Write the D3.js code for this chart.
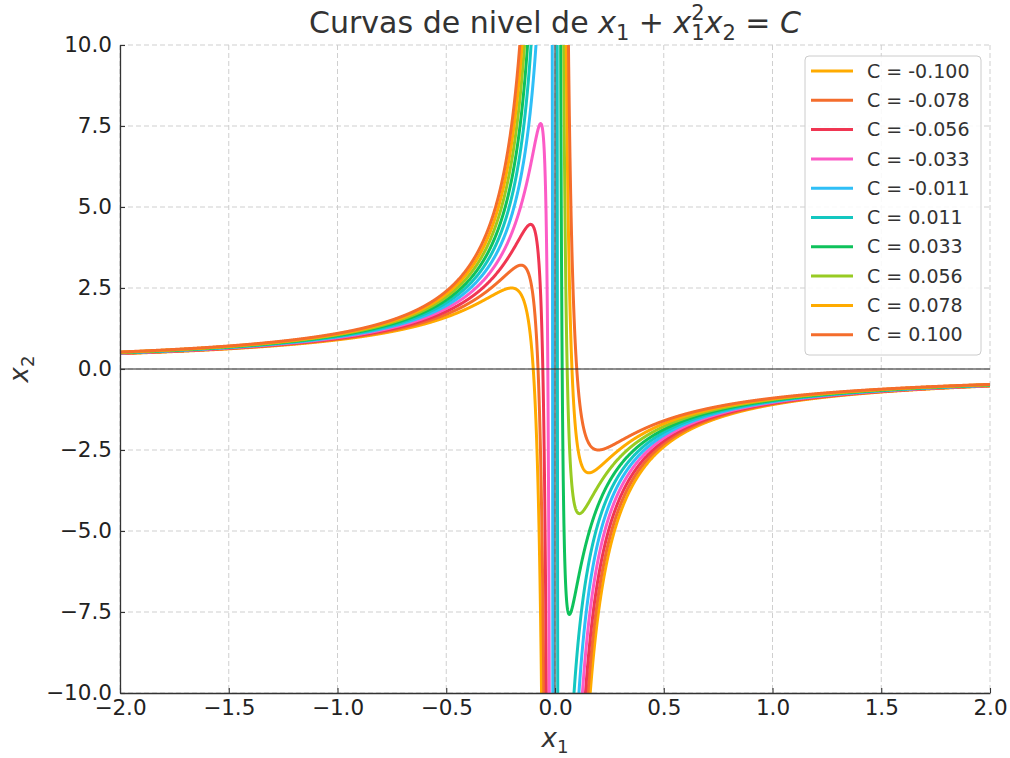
<!DOCTYPE html>
<html>
<head>
<meta charset="utf-8">
<script src="https://cdn.jsdelivr.net/npm/d3@7"></script>
<style>
  body { margin: 0; background: #fff; }
  svg { font-family: "DejaVu Sans", sans-serif; }
  text { white-space: pre; }
</style>
</head>
<body>
<div id="chart"></div>
<script>
// Level values and their colours (legend order)
var levels = [-0.100, -0.078, -0.056, -0.033, -0.011, 0.011, 0.033, 0.056, 0.078, 0.100];
var levelLabels = ["C = -0.100", "C = -0.078", "C = -0.056", "C = -0.033", "C = -0.011",
                   "C = 0.011", "C = 0.033", "C = 0.056", "C = 0.078", "C = 0.100"];
var colors = ["#ffab00", "#f46d2c", "#f03652", "#fc5bc6", "#2fbff7",
              "#13c7c0", "#0ec25b", "#98cb23", "#ffab00", "#f46d2c"];
var xTicks = [-2.0, -1.5, -1.0, -0.5, 0.0, 0.5, 1.0, 1.5, 2.0];
var yTicks = [-10.0, -7.5, -5.0, -2.5, 0.0, 2.5, 5.0, 7.5, 10.0];

// SVG area
var svgWidth = 1010;
var svgHeight = 758;
var margin = { top: 45, right: 20, bottom: 65, left: 120 };
var chartWidth = svgWidth - margin.left - margin.right;
var chartHeight = svgHeight - margin.top - margin.bottom;

var svg = d3.select("#chart")
  .append("svg")
  .attr("width", svgWidth)
  .attr("height", svgHeight);

var chartGroup = svg.append("g")
  .attr("transform", `translate(${margin.left}, ${margin.top})`);

var xScale = d3.scaleLinear().domain([-2, 2]).range([0, chartWidth]);
var yScale = d3.scaleLinear().domain([-10, 10]).range([chartHeight, 0]);

// dashed grid
chartGroup.append("g")
  .selectAll("line")
  .data(xTicks)
  .enter().append("line")
  .attr("x1", d => xScale(d)).attr("x2", d => xScale(d))
  .attr("y1", 0).attr("y2", chartHeight)
  .attr("stroke", "#cfcfcf").attr("stroke-dasharray", "5,3");

chartGroup.append("g")
  .selectAll("line")
  .data(yTicks)
  .enter().append("line")
  .attr("y1", d => yScale(d)).attr("y2", d => yScale(d))
  .attr("x1", 0).attr("x2", chartWidth)
  .attr("stroke", "#cfcfcf").attr("stroke-dasharray", "5,3");

// clip curves to the plot area
svg.append("defs").append("clipPath").attr("id", "plotClip")
  .append("rect").attr("width", chartWidth).attr("height", chartHeight);

// x1 + x1^2 x2 = C  ->  x2 = (C - x1) / x1^2
var x1Values = d3.range(-2000, 2001).filter(i => i !== 0).map(i => i / 1000);

var line = d3.line()
  .defined(d => Math.abs(d[1]) < 200)
  .x(d => xScale(d[0]))
  .y(d => yScale(d[1]));

var curves = chartGroup.append("g").attr("clip-path", "url(#plotClip)");

levels.forEach((c, i) => {
  var pts = x1Values.map(x => [x, (c - x) / (x * x)]);
  curves.append("path")
    .datum(pts)
    .attr("d", line)
    .attr("fill", "none")
    .attr("stroke", colors[i])
    .attr("stroke-width", 3)
    .attr("stroke-linejoin", "round");
});

// reference lines at 0
curves.append("line")
  .attr("x1", 0).attr("x2", chartWidth)
  .attr("y1", yScale(0)).attr("y2", yScale(0))
  .attr("stroke", "#222").attr("stroke-width", 1);
curves.append("line")
  .attr("x1", xScale(0)).attr("x2", xScale(0))
  .attr("y1", 0).attr("y2", chartHeight)
  .attr("stroke", "#222").attr("stroke-width", 1);

// axes with inward ticks
var bottomAxis = d3.axisBottom(xScale).tickValues(xTicks).tickFormat(d3.format(".1f"))
  .tickSizeInner(-5).tickSizeOuter(0).tickPadding(7);
var leftAxis = d3.axisLeft(yScale).tickValues(yTicks).tickFormat(d3.format(".1f"))
  .tickSizeInner(-5).tickSizeOuter(0).tickPadding(8);

var gx = chartGroup.append("g")
  .attr("transform", `translate(0, ${chartHeight})`)
  .call(bottomAxis);
var gy = chartGroup.append("g").call(leftAxis);

[gx, gy].forEach(g => {
  g.select(".domain").attr("stroke", "#333").attr("stroke-width", 1.3);
  g.selectAll(".tick line").attr("stroke", "#333").attr("stroke-width", 1.1);
  g.selectAll(".tick text")
    .attr("font-family", "DejaVu Sans, sans-serif")
    .attr("font-size", "21.5px")
    .attr("fill", "#222");
});

// lay out a row of mathtext-like pieces, centred on cx, baseline at cy
function mathText(parent, pieces, size, cx, cy, rotate) {
  var g = parent.append("g");
  var t = g.append("text")
    .attr("font-size", size + "px")
    .attr("fill", "#333");
  var x = 0;
  pieces.forEach(p => {
    var fs = p.small ? size * 0.7 : size;
    var dy = p.sub ? size * 0.22 : p.sup ? -size * 0.42 : 0;
    var el = t.append("tspan")
      .attr("x", x).attr("y", dy)
      .attr("font-size", fs + "px")
      .attr("font-style", p.italic ? "italic" : "normal")
      .text(p.t);
    var w = el.node().getComputedTextLength();
    if (!p.stack) x += w;
  });
  t.attr("transform", `translate(${-x / 2}, 0)`);
  g.attr("transform", `translate(${cx}, ${cy})` + (rotate ? ` rotate(${rotate})` : ""));
  return g;
}

// title
mathText(svg, [
  { t: "Curvas de nivel de " },
  { t: "x", italic: true },
  { t: "1", small: true, sub: true },
  { t: " + " },
  { t: "x", italic: true },
  { t: "2", small: true, sup: true, stack: true },
  { t: "1", small: true, sub: true },
  { t: "x", italic: true },
  { t: "2", small: true, sub: true },
  { t: " = " },
  { t: "C", italic: true }
], 30, 555, 33);

// axis titles
mathText(svg, [{ t: "x", italic: true }, { t: "1", small: true, sub: true }], 26, 555, 747);
mathText(svg, [{ t: "x", italic: true }, { t: "2", small: true, sub: true }], 26, 28, 369, -90);

// legend
var legend = svg.append("g").attr("transform", "translate(805, 56)");
legend.append("rect")
  .attr("width", 176).attr("height", 299).attr("rx", 4)
  .attr("fill", "#fff").attr("fill-opacity", 0.85)
  .attr("stroke", "#cccccc").attr("stroke-width", 1);

var rows = legend.selectAll("g.row")
  .data(levelLabels)
  .enter().append("g")
  .attr("class", "row")
  .attr("transform", (d, i) => `translate(0, ${15 + i * 29.3})`);

rows.append("line")
  .attr("x1", 6).attr("x2", 48)
  .attr("stroke", (d, i) => colors[i])
  .attr("stroke-width", 3);

rows.append("text")
  .attr("x", 62)
  .attr("dy", "0.35em")
  .attr("font-size", "19px")
  .attr("fill", "#333")
  .text(d => d);
</script>
</body>
</html>
